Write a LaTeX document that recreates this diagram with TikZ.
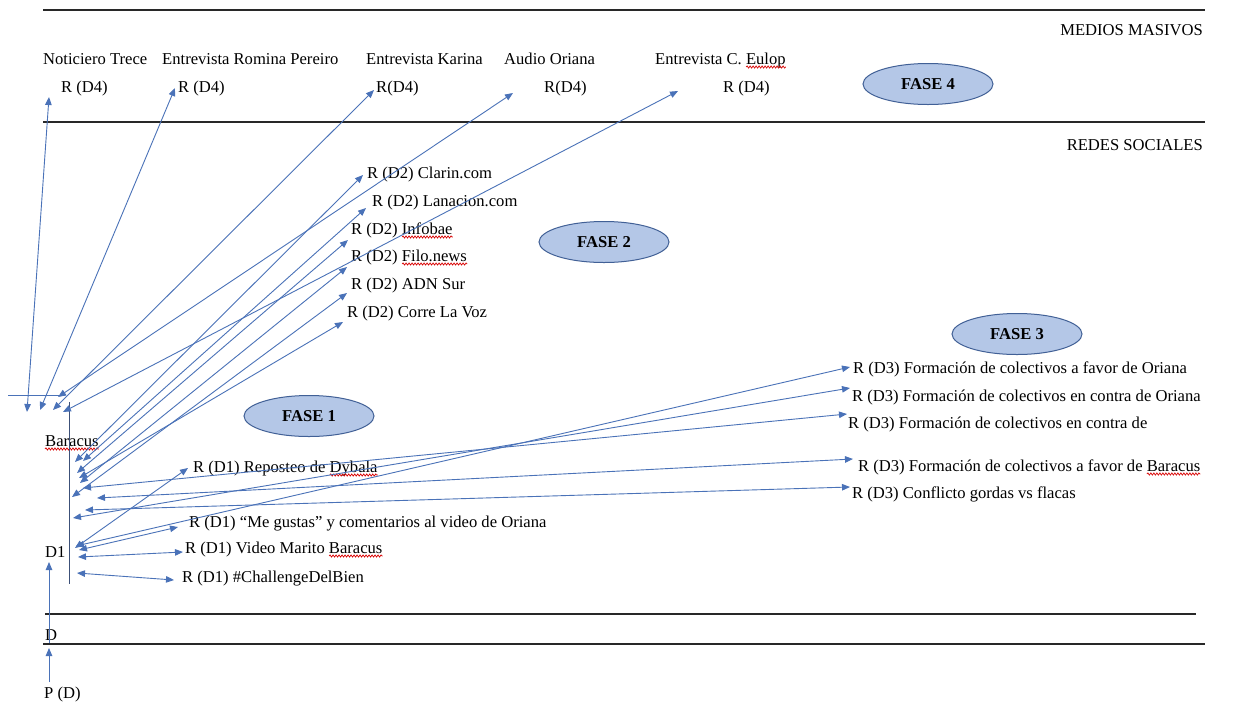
\documentclass[tikz,border=0pt]{standalone}
\usepackage{fontspec}
\setmainfont{Liberation Serif}
\usetikzlibrary{arrows.meta,shapes.geometric,decorations.pathmorphing,calc}
\definecolor{conblue}{RGB}{74,114,184}
\definecolor{axisblue}{RGB}{60,80,120}
\definecolor{fasefill}{RGB}{180,199,231}
\definecolor{faseline}{RGB}{65,96,150}
\definecolor{sepgray}{RGB}{40,40,40}
\begin{document}
\begin{tikzpicture}[x=1pt,y=-1pt,
  lbl/.style={anchor=base west,inner sep=0pt,font=\fontsize{16.6}{19}\selectfont},
  lblr/.style={anchor=base east,inner sep=0pt,font=\fontsize{16.6}{19}\selectfont},
  fase/.style={ellipse,draw=faseline,fill=fasefill,line width=1pt,minimum width=130pt,minimum height=41pt,inner sep=0pt,font=\fontsize{16.6}{19}\selectfont\bfseries},
  conn/.style={draw=conblue,line width=0.9pt,{Triangle[length=8pt,width=6.5pt]}-{Triangle[length=8pt,width=6.5pt]}},
  uparrow/.style={draw=conblue,line width=0.9pt,-{Triangle[length=8pt,width=6.5pt]}},
  plainline/.style={draw=conblue,line width=0.9pt},
  axisline/.style={draw=axisblue,line width=1pt},
  sepline/.style={draw=sepgray,line width=1.2pt},
  wavy/.style={draw=red!85!black,line width=0.7pt,decorate,decoration={snake,amplitude=1.1pt,segment length=3pt}}]

\fill[white] (0,0) rectangle (1252,702);
\useasboundingbox (0,0) rectangle (1252,702);

% separators
\coordinate (s1a) at (43,10);   \coordinate (s1b) at (1205,10);
\coordinate (s2a) at (43,122);  \coordinate (s2b) at (1205,122);
\coordinate (s3a) at (45,614);  \coordinate (s3b) at (1196,614);
\coordinate (s4a) at (43,644);  \coordinate (s4b) at (1205,644);
\draw[sepline] (s1a) -- (s1b);
\draw[sepline] (s2a) -- (s2b);
\draw[sepline] (s3a) -- (s3b);
\draw[sepline] (s4a) -- (s4b);

% section titles
\node[lblr] (medios) at (1203,35) {MEDIOS MASIVOS};
\node[lblr] (redes) at (1203,150) {REDES SOCIALES};

% phases
\node[fase] (f4) at (928,84) {FASE 4};
\node[fase] (f2) at (604,242) {FASE 2};
\node[fase] (f3) at (1017,334) {FASE 3};
\node[fase] (f1) at (309,416) {FASE 1};

% D4 row
\node[lbl] (noticiero) at (43,64) {Noticiero Trece};
\node[lbl] (romina) at (162,64) {Entrevista Romina Pereiro};
\node[lbl] (karina) at (366,64) {Entrevista Karina};
\node[lbl] (audio) at (504,64) {Audio Oriana};
\node[lbl] (eulop) at (655,64) {Entrevista C. Eulop};
\node[lbl] (r4a) at (61,92) {R (D4)};
\node[lbl] (r4b) at (178,92) {R (D4)};
\node[lbl] (r4c) at (376,92) {R(D4)};
\node[lbl] (r4d) at (544,92) {R(D4)};
\node[lbl] (r4e) at (723,92) {R (D4)};

% D2 labels
\node[lbl] (clarin) at (367,178) {R (D2) Clarin.com};
\node[lbl] (lanacion) at (372,206) {R (D2) Lanacion.com};
\node[lbl] (infobae) at (351,234) {R (D2) Infobae};
\node[lbl] (filo) at (351,261) {R (D2) Filo.news};
\node[lbl] (adn) at (351,289) {R (D2) ADN Sur};
\node[lbl] (corre) at (347,317) {R (D2) Corre La Voz};

% D3 labels
\node[lbl] (favori) at (853,373) {R (D3) Formación de colectivos a favor de Oriana};
\node[lbl] (conori) at (852,401) {R (D3) Formación de colectivos en contra de Oriana};
\node[lbl] (conde) at (848,428) {R (D3) Formación de colectivos en contra de};
\node[lbl] (favbar) at (858,471) {R (D3) Formación de colectivos a favor de Baracus};
\node[lbl] (confl) at (852,498) {R (D3) Conflicto gordas vs flacas};

% D1 labels
\node[lbl] (repost) at (193,472) {R (D1) Reposteo de Dybala};
\node[lbl] (megusta) at (189,527) {R (D1) “Me gustas” y comentarios al video de Oriana};
\node[lbl] (video) at (185,553) {R (D1) Video Marito Baracus};
\node[lbl] (chall) at (182,582) {R (D1) \#ChallengeDelBien};

% left labels
\node[lbl] (baracus) at (45,446) {Baracus};
\node[lbl] (done) at (45,557) {D1};
\node[lbl] (dlab) at (45,640) {D};
\node[lbl] (pd) at (44,698) {P (D)};

% spell-check underlines
\draw[wavy] ([yshift=-3pt]baracus.base west) -- ([yshift=-3pt]baracus.base east);
\draw[wavy] ([xshift=-48pt,yshift=-3pt]repost.base east) -- ([yshift=-3pt]repost.base east);
\draw[wavy] ([xshift=-50.7pt,yshift=-3pt]infobae.base east) -- ([yshift=-3pt]infobae.base east);
\draw[wavy] ([xshift=-65pt,yshift=-3pt]filo.base east) -- ([yshift=-3pt]filo.base east);
\draw[wavy] ([xshift=-39.7pt,yshift=-3pt]eulop.base east) -- ([yshift=-3pt]eulop.base east);
\draw[wavy] ([xshift=-53.5pt,yshift=-3pt]video.base east) -- ([yshift=-3pt]video.base east);
\draw[wavy] ([xshift=-53.5pt,yshift=-3pt]favbar.base east) -- ([yshift=-3pt]favbar.base east);

% axis and short line
\coordinate (axtop) at (69,402); \coordinate (axbot) at (69,584);
\draw[axisline] (axtop) -- (axbot);
\coordinate (hl1) at (8,395); \coordinate (hl2) at (62,395);
\draw[plainline] (hl1) -- (hl2);

% D4 connectors
\coordinate (t1) at (49,97);   \coordinate (b1) at (27,412);
\coordinate (t2) at (175,88);  \coordinate (b2) at (40,410);
\coordinate (t3) at (374,90);  \coordinate (b3) at (53,410);
\coordinate (t4) at (513,93);  \coordinate (b4) at (58,397);
\coordinate (t5) at (678,91);  \coordinate (b5) at (63,412);
\draw[conn] (b1) -- (t1);
\draw[conn] (b2) -- (t2);
\draw[conn] (b3) -- (t3);
\draw[conn] (b4) -- (t4);
\draw[conn] (b5) -- (t5);

% D2 connectors
\coordinate (c2a) at (363,175); \coordinate (a2a) at (75,462);
\coordinate (c2b) at (366,208); \coordinate (a2b) at (83,461);
\coordinate (c2c) at (348,240); \coordinate (a2c) at (77,473);
\coordinate (c2d) at (347,267); \coordinate (a2d) at (80,483);
\coordinate (c2e) at (347,293); \coordinate (a2e) at (72,497);
\coordinate (c2f) at (343,322); \coordinate (a2f) at (79,478);
\draw[conn] (a2a) -- (c2a);
\draw[conn] (a2b) -- (c2b);
\draw[conn] (a2c) -- (c2c);
\draw[conn] (a2d) -- (c2d);
\draw[conn] (a2e) -- (c2e);
\draw[conn] (a2f) -- (c2f);

% D3 connectors
\coordinate (c3a) at (850,367); \coordinate (a3a) at (76,546);
\coordinate (c3b) at (850,388); \coordinate (a3b) at (73,518);
\coordinate (c3c) at (847,414); \coordinate (a3c) at (83,488);
\coordinate (c3d) at (853,459); \coordinate (a3d) at (97,498);
\coordinate (c3e) at (850,487); \coordinate (a3e) at (85,510);
\draw[conn] (a3a) -- (c3a);
\draw[conn] (a3b) -- (c3b);
\draw[conn] (a3c) -- (c3c);
\draw[conn] (a3d) -- (c3d);
\draw[conn] (a3e) -- (c3e);

% D1 connectors
\coordinate (c1a) at (188,468); \coordinate (a1a) at (75,548);
\coordinate (c1b) at (178,527); \coordinate (a1b) at (79,550);
\coordinate (c1c) at (183,552); \coordinate (a1c) at (78,557);
\coordinate (c1d) at (174,580); \coordinate (a1d) at (77,573);
\draw[conn] (a1a) -- (c1a);
\draw[conn] (a1b) -- (c1b);
\draw[conn] (a1c) -- (c1c);
\draw[conn] (a1d) -- (c1d);

% vertical arrows
\coordinate (v1a) at (49,643); \coordinate (v1b) at (49,562);
\coordinate (v2a) at (49,682); \coordinate (v2b) at (49,648);
\draw[uparrow] (v1a) -- (v1b);
\draw[uparrow] (v2a) -- (v2b);
\end{tikzpicture}
\end{document}
